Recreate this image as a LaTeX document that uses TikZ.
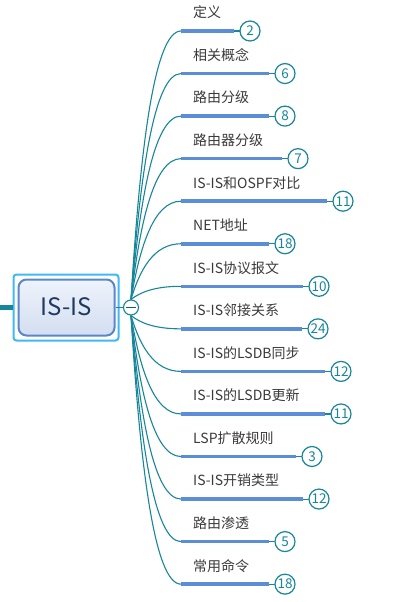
\documentclass[tikz,border=0pt]{standalone}
\usepackage{fontspec}
\newfontfamily\cjk{Noto Sans CJK SC}
\definecolor{conncol}{HTML}{17869A}
\definecolor{ulcol}{HTML}{5B8ED6}
\definecolor{outercol}{HTML}{3FB8F4}
\definecolor{innercol}{HTML}{5B86C8}
\definecolor{titlecol}{HTML}{1F3A60}
\definecolor{txtcol}{HTML}{3A3A3A}
\definecolor{gradtop}{HTML}{EEF3FB}
\definecolor{gradbot}{HTML}{D3DEF0}
\definecolor{minuscol}{HTML}{0E5E6C}
\tikzset{
  conn/.style={draw=conncol, line width=1.1pt},
  uline/.style={draw=ulcol, line width=3.5pt},
  numc/.style={circle, draw=conncol, fill=white, line width=1.2pt, minimum size=20pt, inner sep=0pt, text=conncol, font=\cjk\fontsize{13.5}{14}\selectfont},
  topic/.style={anchor=west, inner sep=0pt, text=txtcol, font=\cjk\fontsize{14}{16}\selectfont},
  collapse/.style={circle, draw=conncol, fill=white, line width=1.1pt, minimum size=15pt, inner sep=0pt,
    path picture={\draw[line width=1.2pt, minuscol] ([xshift=-5pt]path picture bounding box.center) -- ([xshift=5pt]path picture bounding box.center);}},
}
\begin{document}
\begin{tikzpicture}[x=1pt,y=-1pt]
\useasboundingbox (0,0) rectangle (412,602);
% central node
\node[draw=outercol, fill=white, line width=2pt, rounded corners=3pt, minimum width=105pt, minimum height=66pt, inner sep=0pt] (outer) at (66,307.5) {};
\node[draw=innercol, top color=gradtop, bottom color=gradbot, line width=2pt, rounded corners=8pt, minimum width=96pt, minimum height=56pt, inner sep=0pt] (inner) at (66.5,307.5) {};
\node[inner sep=0pt, text=titlecol, font=\cjk\fontsize{24}{26}\selectfont] (title) at (66,306.5) {IS-IS};
\coordinate (lft) at (0,307.5);
\draw[draw=conncol, line width=5pt] (lft) -- (outer.west);
\node[collapse] (col) at (131,307.5) {};
\draw[conn] (inner.east) -- (col.west);
% topics
\foreach \i/\cx/\lab/\num in {
  1/250/定义/2, 2/285/相关概念/6, 3/285/路由分级/8, 4/298/路由器分级/7,
  5/343/IS-IS和OSPF对比/11, 6/285/NET地址/18, 7/319/IS-IS协议报文/10,
  8/318/IS-IS邻接关系/24, 9/341/IS-IS的LSDB同步/12, 10/341/IS-IS的LSDB更新/11,
  11/312/LSP扩散规则/3, 12/319/IS-IS开销类型/12, 13/285/路由渗透/5, 14/285/常用命令/18} {
  \pgfmathsetmacro\yy{31+(\i-1)*42.55}
  \coordinate (s\i) at (181,\yy);
  \coordinate (e\i) at (\cx-16,\yy);
  \draw[conn] (e\i) -- (\cx,\yy);
  \draw[uline] (s\i) -- (e\i);
  \node[numc] (n\i) at (\cx,\yy) {\num};
  \node[topic] (t\i) at (193,\yy-18.5) {\lab};
}
\foreach \i in {1,...,7} {
  \pgfmathsetmacro\yy{31+(\i-1)*42.55}
  \pgfmathsetmacro\cy{300+0.55*(\yy-300)}
  \draw[conn] (col.north) .. controls (140,\cy) and (154,\yy) .. (s\i);
}
\foreach \i in {8,...,14} {
  \pgfmathsetmacro\yy{31+(\i-1)*42.55}
  \pgfmathsetmacro\cy{315+0.55*(\yy-315)}
  \draw[conn] (col.south) .. controls (140,\cy) and (154,\yy) .. (s\i);
}
\end{tikzpicture}
\end{document}
